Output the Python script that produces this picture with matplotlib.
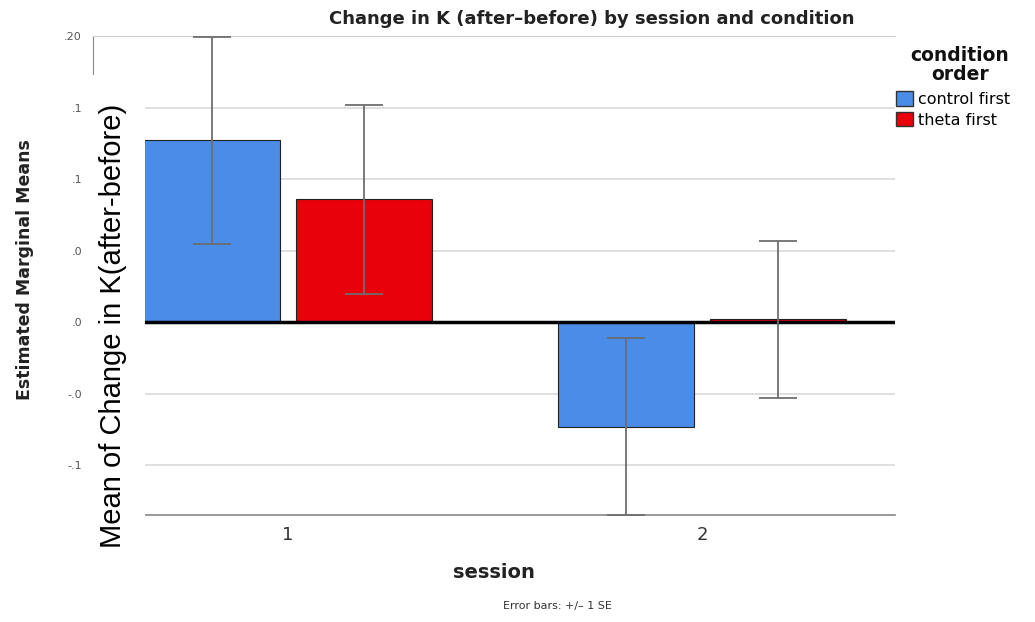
import matplotlib
matplotlib.use("Agg")
import matplotlib.pyplot as plt
import matplotlib.patches as patches
import numpy as np

# values
sessions = [1, 2]
session_labels = ["1", "2"]
control_means = [0.127, -0.073]
control_se = [0.072, 0.062]
theta_means = [0.086, 0.002]
theta_se = [0.066, 0.055]
ytick_values = [0.20, 0.15, 0.10, 0.05, 0.00, -0.05, -0.10]
ytick_labels = [".20", ".1", ".1", ".0", ".0", "-.0", "-.1"]

W, H = 1035, 622
fig = plt.figure(figsize=(W / 100, H / 100), dpi=100)
fig.patch.set_facecolor("white")

# axes box in pixel terms
left, right, top, bottom = 93, 895, 36, 515
ax = fig.add_axes([left / W, 1 - bottom / H, (right - left) / W, (bottom - top) / H])

blue = "#4a8ce8"
red = "#e8000a"
grey = "#6e6e6e"

x = np.array(sessions, dtype=float)
width = 0.329
offset = 0.183

ax.bar(x - offset, control_means, width, color=blue, edgecolor="#222222", linewidth=0.8, zorder=3)
ax.bar(x + offset, theta_means, width, color=red, edgecolor="#222222", linewidth=0.8, zorder=3)
ax.errorbar(x - offset, control_means, yerr=control_se, fmt="none", ecolor=grey,
            elinewidth=1.3, capsize=13.5, capthick=1.3, zorder=5)
ax.errorbar(x + offset, theta_means, yerr=theta_se, fmt="none", ecolor=grey,
            elinewidth=1.3, capsize=13.5, capthick=1.3, zorder=5)

ax.axhline(0, color="black", linewidth=2.5, zorder=4)

ax.set_xlim(0.529, 2.466)
ax.set_ylim(-0.1347, 0.20)

ax.set_yticks(ytick_values)
ax.set_yticklabels(ytick_labels, fontsize=8, color="#555555")
ax.set_xticks(x)
ax.set_xticklabels(session_labels, fontsize=13, color="#333333")
ax.tick_params(axis="both", length=0)
ax.tick_params(axis="y", pad=8)
ax.tick_params(axis="x", pad=8)

for v in ytick_values[1:]:
    if v != 0:
        ax.axhline(v, color="#d9d9d9", linewidth=1.2, zorder=1)

ax.spines["right"].set_visible(False)
ax.spines["top"].set_color("#cfcfcf")
ax.spines["left"].set_color("#888888")
ax.spines["bottom"].set_color("#888888")
ax.spines["bottom"].set_linewidth(1.2)

# white patch that hides the left part of the plot behind the overlaid label
fig.patches.append(patches.Rectangle((left / W - 0.002, 0), (145 - left) / W + 0.002, 1 - 75 / H,
                                     transform=fig.transFigure, facecolor="white",
                                     edgecolor="none", zorder=10))

fig.text(592 / W, 1 - 19 / H, "Change in K (after\u2013before) by session and condition",
         ha="center", va="center", fontsize=13, fontweight="bold", color="#222222")
fig.text(25 / W, 1 - 270 / H, "Estimated Marginal Means", rotation=90,
         ha="center", va="center", fontsize=12.5, fontweight="bold", color="#222222")
fig.text(113 / W, 1 - 326 / H, "Mean of Change in K(after-before)", rotation=90,
         ha="center", va="center", fontsize=21, family="Liberation Sans", color="black", zorder=11)
fig.text(494 / W, 1 - 573 / H, "session", ha="center", va="center",
         fontsize=14, fontweight="bold", color="#222222")
fig.text(557 / W, 1 - 606 / H, "Error bars: +/\u2013 1 SE", ha="center", va="center",
         fontsize=8, color="#333333")

# legend title drawn separately so its spacing can match the reference
fig.text(960 / W, 1 - 65 / H, "condition\norder", ha="center", va="center",
         fontsize=13.5, fontweight="bold", color="#111111", linespacing=1.0)

handles = [patches.Patch(facecolor=blue, edgecolor="#333333", label="control first"),
           patches.Patch(facecolor=red, edgecolor="#333333", label="theta first")]
leg = fig.legend(handles=handles, loc="upper left",
                 bbox_to_anchor=(896 / W, 1 - 91 / H), frameon=False, fontsize=11.5,
                 handlelength=1.05, handleheight=1.05, handletextpad=0.3, labelspacing=0.3,
                 borderaxespad=0, borderpad=0.0)

fig.savefig("out.png", dpi=100)
